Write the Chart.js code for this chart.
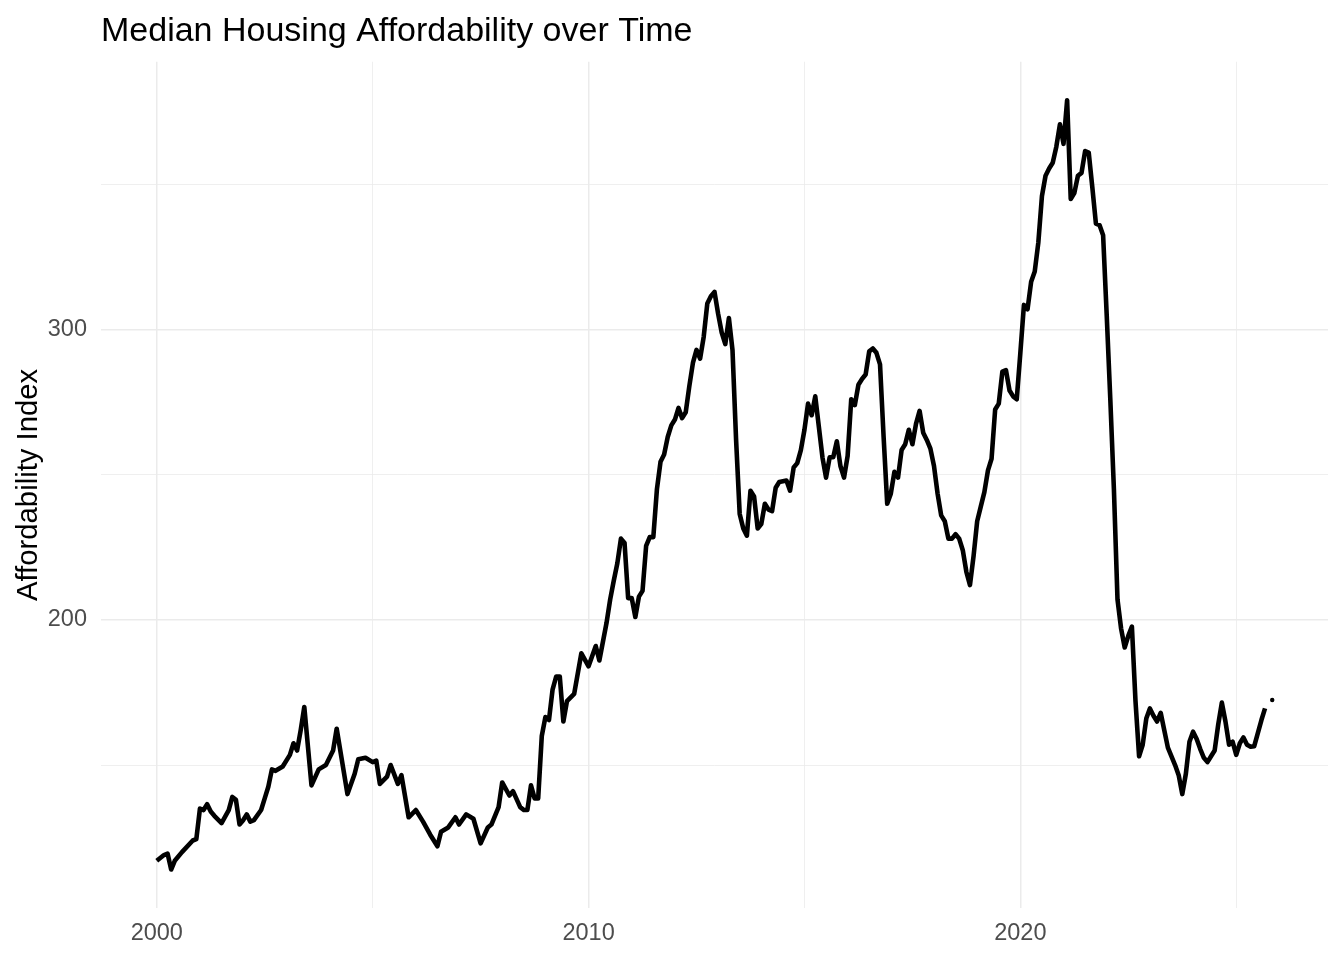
<!DOCTYPE html>
<html>
<head>
<meta charset="utf-8">
<script src="https://cdn.jsdelivr.net/npm/chart.js@4.4.1/dist/chart.umd.min.js"></script>
<style>
  html, body { margin: 0; padding: 0; background: #ffffff; }
  #wrap { width: 1344px; height: 960px; }
</style>
</head>
<body>
<div id="wrap"><canvas id="c" width="1344" height="960"></canvas></div>
<script>
const chartTitle = "Median Housing Affordability over Time";
const yAxisTitle = "Affordability Index";

const dates = [
  "2000-01","2000-03","2000-04","2000-05","2000-06","2000-08","2000-11","2000-12",
  "2001-01","2001-02","2001-03","2001-04","2001-05","2001-07","2001-09","2001-10","2001-11","2001-12",
  "2002-01","2002-02","2002-03","2002-04","2002-06","2002-07","2002-08","2002-09","2002-10","2002-12",
  "2003-02","2003-03","2003-04","2003-05","2003-06","2003-08","2003-10","2003-12",
  "2004-02","2004-03","2004-06","2004-08","2004-09","2004-11",
  "2005-01","2005-02","2005-03","2005-05","2005-06","2005-08","2005-09","2005-11",
  "2006-01","2006-03","2006-05","2006-07","2006-08","2006-10","2006-12",
  "2007-01","2007-03","2007-05","2007-07","2007-09","2007-10","2007-12",
  "2008-01","2008-03","2008-04","2008-06","2008-07","2008-08","2008-09","2008-10","2008-11","2008-12",
  "2009-01","2009-02","2009-03","2009-04","2009-05","2009-06","2009-07","2009-09","2009-11",
  "2010-01","2010-03","2010-04","2010-06","2010-07","2010-08","2010-09","2010-10","2010-11","2010-12",
  "2011-01","2011-02","2011-03","2011-04","2011-05","2011-06","2011-07","2011-08","2011-09","2011-10","2011-11","2011-12",
  "2012-01","2012-02","2012-03","2012-04","2012-05","2012-06","2012-07","2012-08","2012-09","2012-10","2012-11","2012-12",
  "2013-01","2013-02","2013-03","2013-04","2013-05","2013-06","2013-07","2013-08","2013-09","2013-10","2013-11","2013-12",
  "2014-01","2014-02","2014-03","2014-04","2014-05","2014-06","2014-08","2014-09","2014-10","2014-11","2014-12",
  "2015-01","2015-02","2015-03","2015-04","2015-05","2015-06","2015-07","2015-08","2015-09","2015-10","2015-11","2015-12",
  "2016-01","2016-02","2016-03","2016-04","2016-05","2016-06","2016-07","2016-08","2016-09","2016-10","2016-11","2016-12",
  "2017-01","2017-02","2017-03","2017-04","2017-05","2017-06","2017-07","2017-08","2017-09","2017-10","2017-11","2017-12",
  "2018-01","2018-02","2018-03","2018-04","2018-05","2018-06","2018-07","2018-08","2018-09","2018-10","2018-11","2018-12",
  "2019-01","2019-02","2019-03","2019-04","2019-05","2019-06","2019-07","2019-08","2019-09","2019-10","2019-11","2019-12",
  "2020-01","2020-02","2020-03","2020-04","2020-05","2020-06","2020-07","2020-08","2020-09","2020-10","2020-11","2020-12",
  "2021-01","2021-02","2021-03","2021-04","2021-05","2021-06","2021-07","2021-08","2021-09","2021-10","2021-11","2021-12",
  "2022-01","2022-02","2022-03","2022-04","2022-05","2022-06","2022-07","2022-08","2022-09","2022-10","2022-11","2022-12",
  "2023-01","2023-02","2023-03","2023-04","2023-05","2023-06","2023-07","2023-08","2023-09","2023-10","2023-11","2023-12",
  "2024-01","2024-02","2024-03","2024-04","2024-05","2024-06","2024-07","2024-08","2024-09","2024-10","2024-11","2024-12",
  "2025-01","2025-02","2025-03","2025-04","2025-05","2025-06","2025-07","2025-08","2025-09","2025-10","2025-11"
];

const values = [
  117,119,119.5,114,117,120,124,124.5,
  135,134.5,136.5,134,132.5,130,134.5,139,138,129.5,
  131,133,130.5,131,134.5,138.5,142.5,148.5,148,149.5,
  153.5,157.5,155,162,170,143,148.5,150,
  155,162.5,140,147,152,152.5,
  151,151.5,143.5,146,150,143.5,146.5,132,
  134.5,130.5,126,122,127,128.5,132,
  129.5,133,131.5,123,128.5,129.5,135.5,
  144,139.5,141,135.5,134.5,134.5,143,138.5,138.5,160,
  166.5,165.5,176,180.5,180.5,165,172,174.5,188.5,
  184,191,186,199,207,213.5,219.5,228,226.5,207.5,
  207.5,201,208,210,225.5,228.5,228.5,245,254.5,257,263,267,
  269,273,269.5,271.5,280.5,288.5,293,290,297.5,309,311.5,313,
  305.5,299,295,304,293,262,236.5,231.5,229,244.5,242.5,231.5,
  233,240,238,237.5,245.5,247.5,248,244.5,252.5,254,258.5,
  265.5,274.5,270.5,277,266.5,256,249,256,256,261.5,253,249,
  256.5,276,274,281,283,284.5,292.5,293.5,292,288,263,240,
  243.5,251,249,258.5,260.5,265.5,260.5,267.5,272,264.5,262,259,
  253,243.5,236,234,228,228,229.5,228,224,216.5,212,222,
  234,239,244,251.5,255.5,272.5,274.5,285.5,286,279,277,276,
  292,308.5,307,316.5,320,330,346,353,355.5,357.5,363,370.7,
  364,379,345,347,353,354,361.5,361,349,336.5,336,332.5,
  305,276,245,207,197,190.5,194.5,197.7,172,153,157,166,
  169.5,167,165,168,162,156,153,150,146.5,140,147,158,
  161.5,159,155.5,152.5,151,153,155,164,171.5,165,157,158,
  153.5,157.5,159.5,157,156.3,156.5,161,165.5,169.5,null,172.4
];

const xTickValues = [2000, 2005, 2010, 2015, 2020, 2025];
const xTickLabels = ["2000", "", "2010", "", "2020", ""];
const yTickValues = [150, 200, 250, 300, 350];
const yTickLabels = ["", "200", "", "300", ""];

function toYear(d) {
  const parts = d.split("-").map(Number);
  return parts[0] + (parts[1] - 1) / 12;
}

const points = dates.map((d, i) => ({ x: toYear(d), y: values[i] }));
const xs = points.map(p => p.x);
const ys = values.filter(v => v !== null);
const xMinD = Math.min(...xs), xMaxD = Math.max(...xs);
const yMinD = Math.min(...ys), yMaxD = Math.max(...ys);
const xPad = (xMaxD - xMinD) * 0.05;
const yPad = (yMaxD - yMinD) * 0.05;

function isIsolated(i) {
  if (values[i] === null) return false;
  const prevNull = i === 0 || values[i - 1] === null;
  const nextNull = i === values.length - 1 || values[i + 1] === null;
  return prevNull && nextNull;
}

const FONT = "'Liberation Sans', Arial, Helvetica, sans-serif";
Chart.defaults.font.family = FONT;

function gridWidth(labels, tickVals) {
  return ctx => {
    if (!ctx.tick) return 0;
    const idx = tickVals.indexOf(ctx.tick.value);
    return (idx >= 0 && labels[idx] !== "") ? 1.5 : 0.8;
  };
}

new Chart(document.getElementById("c"), {
  type: "line",
  data: {
    datasets: [{
      data: points,
      borderColor: "#000000",
      borderWidth: 4.6,
      borderJoinStyle: "round",
      borderCapStyle: "butt",
      tension: 0,
      spanGaps: false,
      fill: false,
      pointRadius: ctx => isIsolated(ctx.dataIndex) ? 2.2 : 0,
      pointHoverRadius: 0,
      pointBackgroundColor: "#000000",
      pointBorderWidth: 0
    }]
  },
  options: {
    responsive: false,
    animation: false,
    events: [],
    layout: { padding: { left: 0, right: 16, top: 0, bottom: 0 } },
    plugins: {
      legend: { display: false },
      tooltip: { enabled: false },
      title: {
        display: true,
        text: chartTitle,
        align: "start",
        fullSize: false,
        color: "#000000",
        font: { family: FONT, size: 34, weight: "normal" },
        padding: { top: 11, bottom: 10 }
      }
    },
    scales: {
      x: {
        type: "linear",
        min: xMinD - xPad,
        max: xMaxD + xPad,
        afterBuildTicks: scale => { scale.ticks = xTickValues.map(v => ({ value: v })); },
        afterFit: scale => { scale.height = 52; },
        border: { display: false },
        grid: {
          drawTicks: false,
          color: "#EBEBEB",
          lineWidth: gridWidth(xTickLabels, xTickValues)
        },
        ticks: {
          autoSkip: false,
          maxRotation: 0,
          padding: 11,
          color: "#4D4D4D",
          font: { family: FONT, size: 23.5 },
          callback: v => { const i = xTickValues.indexOf(v); return i >= 0 ? xTickLabels[i] : ""; }
        }
      },
      y: {
        type: "linear",
        min: yMinD - yPad,
        max: yMaxD + yPad,
        afterBuildTicks: scale => { scale.ticks = yTickValues.map(v => ({ value: v })); },
        afterFit: scale => { scale.width = 101; },
        border: { display: false },
        grid: {
          drawTicks: false,
          color: "#EBEBEB",
          lineWidth: gridWidth(yTickLabels, yTickValues)
        },
        ticks: {
          autoSkip: false,
          padding: 14,
          color: "#4D4D4D",
          font: { family: FONT, size: 23.5 },
          callback: v => { const i = yTickValues.indexOf(v); return i >= 0 ? yTickLabels[i] : ""; }
        },
        title: {
          display: true,
          text: yAxisTitle,
          color: "#000000",
          font: { family: FONT, size: 29.3, weight: "normal" },
          padding: { top: 11, bottom: 0 }
        }
      }
    }
  }
});
</script>
</body>
</html>
